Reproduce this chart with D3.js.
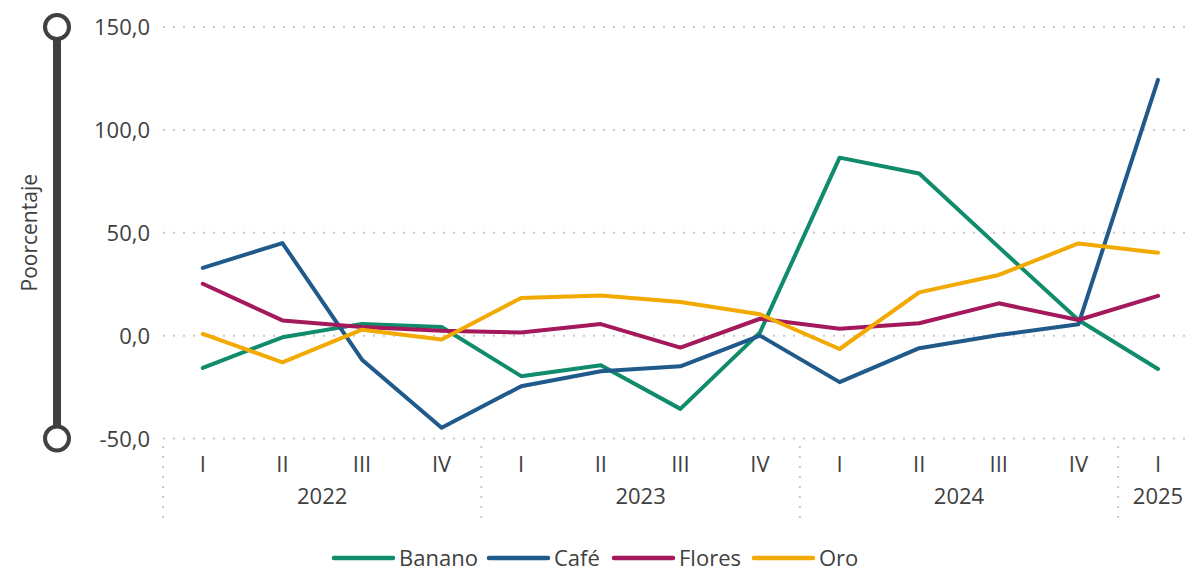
<!doctype html>
<html lang="es">
<head>
<meta charset="utf-8">
<title>Variación por producto</title>
<script src="https://cdn.jsdelivr.net/npm/d3@7"></script>
<style>
  body { margin: 0; background: #fff; }
  text { font-family: "Open Sans", "Noto Sans", sans-serif; fill: #404040; }
</style>
</head>
<body>
<script>
var years = ["2022", "2022", "2022", "2022", "2023", "2023", "2023", "2023", "2024", "2024", "2024", "2024", "2025"];
var quarters = ["I", "II", "III", "IV", "I", "II", "III", "IV", "I", "II", "III", "IV", "I"];
var yTicks = [-50, 0, 50, 100, 150];

var banano = [-15.7, -0.8, 5.7, 4.2, -19.7, -14.4, -35.6, 1.6, 86.5, 78.8, 43.0, 7.6, -16.2];
var cafe   = [32.9, 45.0, -11.7, -44.8, -24.6, -17.3, -14.9, 0.0, -22.6, -6.1, 0.3, 5.5, 124.3];
var flores = [25.2, 7.4, 4.2, 2.4, 1.5, 5.6, -5.8, 8.2, 3.3, 6.0, 15.7, 7.6, 19.3];
var oro    = [0.8, -13.0, 2.9, -1.9, 18.3, 19.5, 16.3, 10.4, -6.5, 21.0, 29.5, 44.8, 40.3];

var series = [
    {name: "Banano", values: banano, color: "#108b6b"},
    {name: "Café", values: cafe, color: "#1f5a8b"},
    {name: "Flores", values: flores, color: "#a3195b"},
    {name: "Oro", values: oro, color: "#f2a900"}
];

var svgW = 1186, svgH = 571;
var plotLeft = 163, plotTop = 27, plotBottom = 438.5;
var step = 79.6;

var svg = d3.select("body").append("svg")
    .attr("width", svgW)
    .attr("height", svgH);

var x = d3.scaleBand()
    .domain(d3.range(quarters.length))
    .range([plotLeft, plotLeft + step * quarters.length]);

var y = d3.scaleLinear()
    .domain([-50, 150])
    .range([plotBottom, plotTop]);

// gridlines
svg.append("g")
   .selectAll("line")
   .data(yTicks)
   .enter()
   .append("line")
   .attr("x1", plotLeft)
   .attr("x2", svgW)
   .attr("y1", d => y(d))
   .attr("y2", d => y(d))
   .attr("stroke", "#c8c8c8")
   .attr("stroke-width", 2)
   .attr("stroke-dasharray", "2,8");

// y axis labels
var yAxis = d3.axisLeft(y)
    .tickValues(yTicks)
    .tickSize(0)
    .tickPadding(0)
    .tickFormat(d => d.toFixed(1).replace(".", ","));

svg.append("g")
   .attr("transform", "translate(150,0)")
   .call(yAxis)
   .call(g => g.select(".domain").remove())
   .selectAll("text")
   .attr("font-size", "22px")
   .attr("dy", "0.35em")
   .attr("fill", "#404040");

// slider decoration on the left
var slider = svg.append("g").attr("stroke", "#404040");
slider.append("line")
      .attr("x1", 57).attr("x2", 57)
      .attr("y1", y(150)).attr("y2", y(-50))
      .attr("stroke-width", 8);
slider.selectAll("circle")
      .data([150, -50])
      .enter()
      .append("circle")
      .attr("cx", 57)
      .attr("cy", d => y(d))
      .attr("r", 12)
      .attr("fill", "#fff")
      .attr("stroke-width", 4);

svg.append("text")
   .attr("transform", "translate(37," + y(50) + ") rotate(-90)")
   .attr("text-anchor", "middle")
   .attr("font-size", "21px")
   .text("Poorcentaje");

// x axis: quarters
svg.append("g")
   .selectAll("text")
   .data(quarters)
   .enter()
   .append("text")
   .attr("x", (_, i) => x(i) + x.bandwidth() / 2)
   .attr("y", 472)
   .attr("text-anchor", "middle")
   .attr("font-size", "22px")
   .text(d => d);

// year groups
var yearGroups = d3.groups(d3.range(years.length), i => years[i]);
var sepX = yearGroups.map(g => x(g[1][0]));
svg.append("g")
   .selectAll("line")
   .data(sepX)
   .enter()
   .append("line")
   .attr("x1", d => d).attr("x2", d => d)
   .attr("y1", 446).attr("y2", 518)
   .attr("stroke", "#c8c8c8")
   .attr("stroke-width", 2)
   .attr("stroke-dasharray", "2,8");

svg.append("g")
   .selectAll("text")
   .data(yearGroups)
   .enter()
   .append("text")
   .attr("x", g => (x(g[1][0]) + x(g[1][g[1].length - 1]) + x.bandwidth()) / 2)
   .attr("y", 504)
   .attr("text-anchor", "middle")
   .attr("font-size", "22px")
   .text(g => g[0]);

// lines
var line = d3.line()
    .x((_, i) => x(i) + x.bandwidth() / 2)
    .y(d => y(d));

svg.append("g")
   .selectAll("path")
   .data(series)
   .enter()
   .append("path")
   .attr("d", d => line(d.values))
   .attr("fill", "none")
   .attr("stroke", d => d.color)
   .attr("stroke-width", 4)
   .attr("stroke-linejoin", "round")
   .attr("stroke-linecap", "round");

// legend
var legendX = [332, 487, 612, 752];
var legend = svg.append("g")
    .selectAll("g")
    .data(series)
    .enter()
    .append("g")
    .attr("transform", (_, i) => "translate(" + legendX[i] + ",558)");
legend.append("line")
      .attr("x1", 2).attr("x2", 61)
      .attr("stroke", d => d.color)
      .attr("stroke-width", 4.5)
      .attr("stroke-linecap", "round");
legend.append("text")
      .attr("x", 67)
      .attr("dy", "0.35em")
      .attr("font-size", "22px")
      .text(d => d.name);
</script>
</body>
</html>
